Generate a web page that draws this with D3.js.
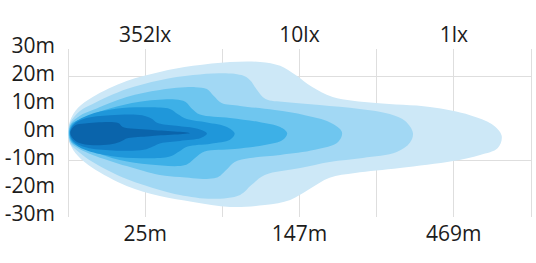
<!DOCTYPE html>
<meta charset="utf-8">
<style>
body { margin: 0; background: #fff; }
text { font-family: "Open Sans", sans-serif; font-size: 21px; fill: #1c1c1c; }
</style>
<body>
<script src="https://d3js.org/d3.v7.min.js"></script>
<script>
// axis values
var yTicks = [30, 20, 10, 0, -10, -20, -30],
    yGrid = [20, -10],
    xGrid = [0, 10, 20, 30, 40, 50, 60],
    labelPos = [10, 30, 50],
    distLabels = ["25m", "147m", "469m"],
    luxLabels = ["352lx", "10lx", "1lx"];

// beam outlines, [position, metres], outer to inner
var beam1 = [[0,-0.2],[0.26,4.1],[1.3,8.8],[3.2,12.7],[7.6,18.4],[11.9,21.6],[16.2,23.8],[21,25.2],[24.9,25.2],[27.5,23.8],[29.5,20.5],[31.6,16.3],[34.3,12.7],[39.9,10.5],[46.9,9.1],[52.1,6.2],[54.9,3],[56.2,-1.2],[55.7,-5.5],[53.4,-8],[49.9,-10.2],[43,-12.7],[37.2,-14.5],[33.9,-16.2],[31.3,-20.2],[28.8,-24.1],[25.5,-25.9],[21,-26.6],[16.2,-24.8],[11.9,-22.7],[7.6,-19.1],[3.2,-12.7],[1.3,-8.4],[0.26,-4.1]];
var beam2 = [[0.05,-0.2],[0.3,3.6],[1.55,7.7],[3.2,10.2],[7.6,15.5],[11.9,18.7],[16.2,20.5],[19.7,21.2],[22.5,20.5],[23.6,18.7],[24.5,15.2],[25.6,12],[28.1,10.9],[32.6,9.8],[37.8,8.4],[41.7,6.6],[43.7,4.1],[44.7,-0.2],[44.3,-3.7],[42.6,-7],[38.2,-9.1],[33.9,-10.5],[30.1,-12.7],[25.5,-15.2],[23.8,-18.7],[22.3,-22.3],[18.8,-23.7],[14.5,-22.3],[11.9,-20.5],[7.6,-16.6],[3.2,-10.5],[1.55,-7.3],[0.3,-4]];
var beam3 = [[0.1,-0.2],[0.4,3.3],[1.55,6],[3.2,8],[7.6,12.7],[11.9,15.2],[16.5,16.2],[18,15.5],[18.9,13],[19.9,10.5],[22.3,9.5],[26.8,8],[30.7,6.2],[33.9,3.7],[35.5,0.2],[35,-3.4],[32,-6.2],[27.5,-8],[23.6,-9.1],[21.6,-10.5],[20.5,-13.4],[19.2,-16.2],[14.5,-15.9],[11.9,-15.2],[7.6,-12],[3.2,-8],[1.55,-6],[0.4,-3.7]];
var beam4 = [[0.15,-0.2],[0.5,3.1],[2.2,5.4],[5.4,8.6],[9.3,11],[13.9,11.8],[15.2,11],[16.1,8.4],[17.1,6.4],[21,5.2],[24.9,3.7],[27.5,2],[28.4,-0.2],[27.8,-2.7],[25.5,-4.5],[21.6,-5.9],[17.7,-6.8],[16.5,-9],[15.2,-11.6],[10.6,-11.4],[6.7,-9.8],[3.2,-6.8],[0.5,-3.5]];
var beam5 = [[0.2,-0.2],[0.6,2.9],[2.6,6.2],[6.2,8.5],[10.5,9],[13.2,8.4],[14.2,6.6],[15.4,4.8],[18,3.6],[20.6,2],[21.6,-0.4],[21,-2.6],[18.5,-4],[15.5,-5],[14.4,-6.8],[13.2,-8.6],[9.5,-9.2],[5.5,-8.4],[2.2,-6.2],[0.6,-3.3]];
var beam6 = [[0.25,-0.2],[0.7,2.7],[2.2,5],[5.5,6.2],[9.6,6.2],[10.8,5],[11.6,3.4],[14,2.4],[16.8,1.3],[18,-0.4],[17.2,-2],[14.5,-3],[12,-3.8],[11,-5],[9.8,-6.2],[5.8,-6.4],[2.4,-5.4],[0.7,-3.1]];
var beam7 = [[0.3,-0.2],[0.9,2.5],[2.2,3.2],[6.5,3.4],[7.1,2],[10.6,1],[15.8,-0.2],[10.6,-1.3],[7.8,-2],[6.7,-3.4],[5.4,-4.3],[2.2,-4.3],[0.9,-2.9]];

var beams = [beam1, beam2, beam3, beam4, beam5, beam6, beam7],
    beamColors = ["#cde8f7", "#a2d8f4", "#6fc6ef", "#3db0e7", "#1f97da", "#127ec7", "#0a64ab"];

var width = 536, height = 263;

var x = d3.scaleLinear().domain([0, 60]).range([68, 531]),
    y = d3.scaleLinear().domain([-30, 30]).range([216.5, 48.5]);

var svg = d3.select("body").append("svg")
    .attr("width", width)
    .attr("height", height);

// grid
var grid = svg.append("g")
    .attr("stroke", "#dedede")
    .attr("stroke-width", 1)
    .attr("shape-rendering", "crispEdges");

grid.selectAll("line.v").data(xGrid)
    .enter().append("line")
    .attr("class", "v")
    .attr("x1", function(d) { return x(d); })
    .attr("x2", function(d) { return x(d); })
    .attr("y1", y(30))
    .attr("y2", y(-30));

grid.selectAll("line.h").data(yGrid)
    .enter().append("line")
    .attr("class", "h")
    .attr("x1", x(0))
    .attr("x2", x(60))
    .attr("y1", function(d) { return y(d); })
    .attr("y2", function(d) { return y(d); });

// beam pattern
var outline = d3.line()
    .x(function(d) { return x(d[0]); })
    .y(function(d) { return y(d[1]); })
    .curve(d3.curveCatmullRomClosed.alpha(0.5));

svg.append("g").selectAll("path")
    .data(beams)
    .enter().append("path")
    .attr("d", outline)
    .attr("fill", function(d, i) { return beamColors[i]; });

// labels
svg.append("g").selectAll("text")
    .data(yTicks)
    .enter().append("text")
    .attr("x", 55)
    .attr("y", function(d) { return y(d) - 3; })
    .attr("dy", "0.35em")
    .attr("text-anchor", "end")
    .text(function(d) { return d + "m"; });

svg.append("g").selectAll("text")
    .data(luxLabels)
    .enter().append("text")
    .attr("x", function(d, i) { return x(labelPos[i]); })
    .attr("y", 35)
    .attr("dy", "0.35em")
    .attr("text-anchor", "middle")
    .text(function(d) { return d; });

svg.append("g").selectAll("text")
    .data(distLabels)
    .enter().append("text")
    .attr("x", function(d, i) { return x(labelPos[i]); })
    .attr("y", 234)
    .attr("dy", "0.35em")
    .attr("text-anchor", "middle")
    .text(function(d) { return d; });
</script>
